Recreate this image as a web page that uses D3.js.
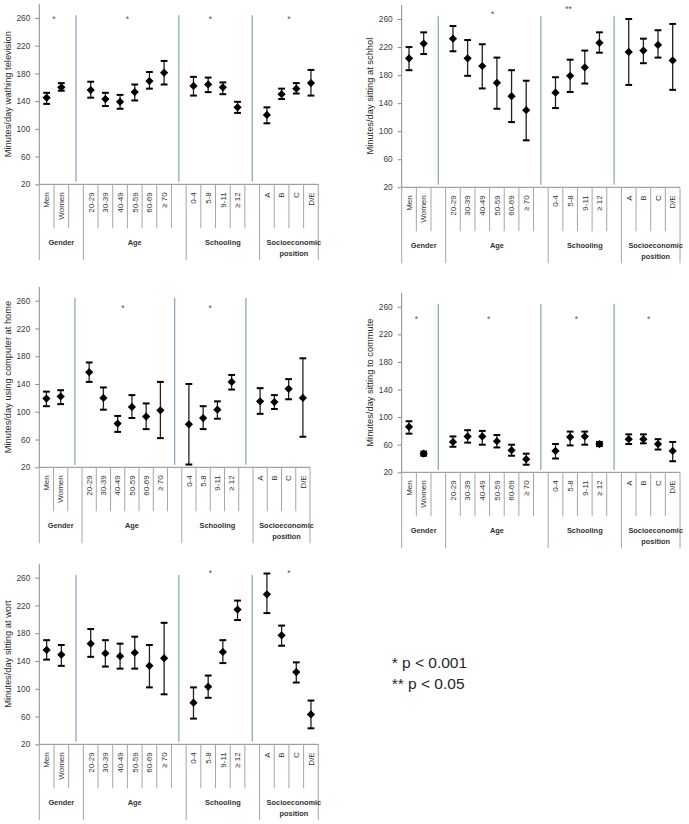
<!DOCTYPE html>
<html>
  <head>
    <meta charset="utf-8">
    <title>sitting time</title>
    <script src="https://cdn.jsdelivr.net/npm/d3@7/dist/d3.min.js"></script>
    <style>
      body { margin: 0; background: #fff; }
      text { font-family: "Liberation Sans", Arial, sans-serif; }
    </style>
  </head>
  <body>
    <svg width="689" height="824"></svg>
    <script>
    // categories
    var groupNames = [["Gender"], ["Age"], ["Schooling"], ["Socioeconomic", "position"]];
    var groupCats = [
      ["Men", "Women"],
      ["20-29", "30-39", "40-49", "50-59", "60-69", "≥ 70"],
      ["0-4", "5-8", "9-11", "≥ 12"],
      ["A", "B", "C", "D/E"]
    ];
    var yTicks = [20, 60, 100, 140, 180, 220, 260];

    // watching television
    var tvMean = [145, 160, 156, 143, 139, 153, 169, 181, 162, 164, 160, 131, 120, 150, 158, 166];
    var tvLow  = [136, 155, 145, 133, 129, 141, 158, 164, 148, 153, 150, 123, 108, 143, 151, 148];
    var tvHigh = [152, 166, 168, 152, 149, 164, 182, 198, 175, 174, 167, 139, 131, 158, 166, 185];
    var tvStars = ["*", "*", "*", "*"];

    // sitting at school
    var schoolMean = [204, 225, 232, 204, 193, 169, 150, 130, 155, 179, 191, 226, 213, 215, 223, 201];
    var schoolLow  = [187, 210, 214, 179, 161, 132, 113, 87, 133, 156, 168, 212, 166, 197, 205, 159];
    var schoolHigh = [220, 241, 250, 230, 224, 205, 187, 172, 177, 202, 215, 241, 260, 232, 244, 253];
    var schoolStars = ["", "*", "**", ""];

    // using computer at home
    var compMean = [119, 122, 157, 120, 83, 107, 93, 102, 82, 91, 103, 143, 115, 114, 133, 120];
    var compLow  = [108, 111, 143, 103, 71, 91, 75, 62, 24, 75, 90, 132, 97, 104, 118, 64];
    var compHigh = [129, 131, 171, 135, 94, 124, 112, 143, 140, 108, 115, 153, 134, 124, 147, 177];
    var compStars = ["", "*", "*", ""];

    // sitting to commute
    var commMean = [86, 47, 64, 72, 72, 65, 52, 39, 51, 71, 72, 61, 68, 68, 61, 51];
    var commLow  = [76, 44, 57, 63, 60, 56, 44, 31, 40, 59, 60, 58, 61, 62, 53, 36];
    var commHigh = [94, 50, 72, 81, 80, 74, 60, 47, 61, 79, 79, 64, 75, 75, 68, 64];
    var commStars = ["*", "*", "*", "*"];

    // sitting at work
    var workMean = [156, 149, 165, 151, 147, 152, 133, 144, 80, 103, 153, 214, 236, 177, 124, 63];
    var workLow  = [142, 133, 146, 132, 129, 129, 102, 92, 57, 87, 137, 199, 209, 162, 109, 43];
    var workHigh = [170, 163, 186, 170, 165, 175, 163, 195, 102, 119, 170, 227, 266, 191, 138, 83];
    var workStars = ["", "", "*", "*"];

    var legendLines = ["* p < 0.001", "** p < 0.05"];

    var svg = d3.select("svg");
    svg.append("rect").attr("width", 689).attr("height", 824).attr("fill", "#fff");

    // slots: every category plus one empty slot between groups
    var slots = [];
    groupCats.forEach(function(cats, gi) {
      cats.forEach(function(c) { slots.push({key: gi + "|" + c, label: c, group: gi}); });
      if (gi < groupCats.length - 1) slots.push({key: "gap" + gi, label: "", group: gi, blank: true});
    });
    var catSlots = slots.filter(function(s) { return !s.blank; });

    var panels = [
      {title: "Minutes/day wathing television", mean: tvMean, low: tvLow, high: tvHigh, stars: tvStars,
       left: 39.3, right: 318.3, top: 4.1, bottom: 184.3, starAt: [261, 261, 261, 261], starDx: [0, 0, -5, 0]},
      {title: "Minutes/day sitting at schhol", mean: schoolMean, low: schoolLow, high: schoolHigh, stars: schoolStars,
       left: 401.7, right: 680, top: 5, bottom: 187.3, starAt: [270, 270, 277, 270], starDx: [0, 3, -9, 0]},
      {title: "Minutes/day using computer at home", mean: compMean, low: compLow, high: compHigh, stars: compStars,
       left: 39.3, right: 310, top: 286.8, bottom: 467.3, starAt: [252, 252, 252, 252], starDx: [0, -2, 0, 0]},
      {title: "Minutes/day sitting to commute", mean: commMean, low: commLow, high: commHigh, stars: commStars,
       left: 401.7, right: 680, top: 292.9, bottom: 472.3, starAt: [244.5, 244.5, 244.5, 244.5], starDx: [0, -1, -1, -2]},
      {title: "Minutes/day sitting at wort", mean: workMean, low: workLow, high: workHigh, stars: workStars,
       left: 39.3, right: 318.3, top: 563.8, bottom: 744.3, starAt: [268.6, 268.6, 268.6, 268.6], starDx: [0, 0, -5, 0]}
    ];

    panels.forEach(drawPanel);

    function drawPanel(p) {
      var g = svg.append("g");
      var x = d3.scaleBand().domain(slots.map(function(s) { return s.key; }))
        .range([p.left, p.right]).padding(0);
      var y = d3.scaleLinear().domain([20, 280]).range([p.bottom, p.top]);
      var bw = x.bandwidth();
      var cx = function(key) { return x(key) + bw / 2; };

      // blue separators in the empty slots
      g.selectAll(".sep")
        .data(slots.filter(function(s) { return s.blank; }))
        .enter().append("line")
        .attr("x1", function(s) { return cx(s.key); })
        .attr("x2", function(s) { return cx(s.key); })
        .attr("y1", y(264)).attr("y2", y(23.5))
        .attr("stroke", "#8ea8c1").attr("stroke-width", 1.3);

      // y axis
      var yAxis = d3.axisLeft(y).tickValues(yTicks).tickSize(4).tickPadding(5);
      var ya = g.append("g").attr("transform", "translate(" + p.left + ",0)").call(yAxis);
      ya.select(".domain").attr("stroke", "#8a8a8a").attr("d", "M0," + p.top + "V" + p.bottom);
      ya.selectAll(".tick line").attr("stroke", "#8a8a8a");
      ya.selectAll(".tick text").attr("font-size", 8.3).attr("fill", "#3a3a3a")
        .style("font-family", "Liberation Sans, Arial, sans-serif");

      // y title
      g.append("text")
        .attr("transform", "translate(" + (p.left - 31.8) + "," + ((p.top + p.bottom) / 2) + ") rotate(-90)")
        .attr("text-anchor", "middle").attr("dy", "0.35em")
        .attr("font-size", 9.3).attr("fill", "#262626")
        .text(p.title);

      // x axis line
      g.append("line")
        .attr("x1", p.left).attr("x2", p.right)
        .attr("y1", p.bottom).attr("y2", p.bottom)
        .attr("stroke", "#8a8a8a").attr("stroke-width", 1);

      // category boundaries
      var bounds = [];
      var start = 0;
      groupCats.forEach(function(cats, gi) {
        var n = cats.length + (gi < groupCats.length - 1 ? 1 : 0);
        for (var k = 0; k <= n; k++) {
          var idx = start + k;
          var outer = (k === 0 || k === n);
          if (outer && bounds.some(function(b) { return b.i === idx; })) continue;
          bounds.push({i: idx, outer: outer});
        }
        start += n;
      });
      g.selectAll(".bound").data(bounds).enter().append("line")
        .attr("x1", function(b) { return p.left + b.i * bw; })
        .attr("x2", function(b) { return p.left + b.i * bw; })
        .attr("y1", p.bottom)
        .attr("y2", function(b) { return p.bottom + (b.outer ? 76 : 44); })
        .attr("stroke", "#a6a6a6").attr("stroke-width", 1);

      // category labels
      g.selectAll(".cat").data(catSlots).enter().append("text")
        .attr("transform", function(s) { return "translate(" + cx(s.key) + "," + (p.bottom + 8) + ") rotate(-90)"; })
        .attr("text-anchor", "end").attr("dy", "0.35em")
        .attr("font-size", 8).attr("fill", "#333")
        .text(function(s) { return s.label; });

      // group labels
      groupNames.forEach(function(lines, gi) {
        var gs = slots.filter(function(s) { return s.group === gi; });
        var x0 = x(gs[0].key), x1 = x(gs[gs.length - 1].key) + bw;
        var shift = lines.length > 1 ? 5 : 0;
        lines.forEach(function(t, li) {
          g.append("text")
            .attr("x", (x0 + x1) / 2 + shift)
            .attr("y", p.bottom + 58.5 + li * 10.5)
            .attr("dy", "0.35em").attr("text-anchor", "middle")
            .attr("font-size", 7.4).attr("font-weight", "bold").attr("fill", "#333")
            .text(t);
        });
      });

      // significance marks
      p.stars.forEach(function(st, gi) {
        if (!st) return;
        var gs = catSlots.filter(function(s) { return s.group === gi; });
        var mid = (cx(gs[0].key) + cx(gs[gs.length - 1].key)) / 2;
        g.append("text")
          .attr("x", mid + p.starDx[gi])
          .attr("y", y(p.starAt[gi]) + 4.6)
          .attr("text-anchor", "middle")
          .attr("font-size", 8.5).attr("fill", "#555")
          .text(st);
      });

      // error bars
      var eb = g.selectAll(".eb").data(catSlots).enter().append("g");
      eb.append("line")
        .attr("x1", function(s) { return cx(s.key); })
        .attr("x2", function(s) { return cx(s.key); })
        .attr("y1", function(s, i) { return y(p.low[i]); })
        .attr("y2", function(s, i) { return y(p.high[i]); })
        .attr("stroke", "#222").attr("stroke-width", 1.3);
      [p.low, p.high].forEach(function(arr) {
        eb.append("line")
          .attr("x1", function(s) { return cx(s.key) - 3.4; })
          .attr("x2", function(s) { return cx(s.key) + 3.4; })
          .attr("y1", function(s, i) { return y(arr[i]); })
          .attr("y2", function(s, i) { return y(arr[i]); })
          .attr("stroke", "#000").attr("stroke-width", 2);
      });

      // diamonds
      g.selectAll(".pt").data(catSlots).enter().append("path")
        .attr("d", d3.symbol(d3.symbolSquare, 34))
        .attr("transform", function(s, i) { return "translate(" + cx(s.key) + "," + y(p.mean[i]) + ") rotate(45)"; })
        .attr("fill", "#000");
    }

    // legend
    svg.selectAll(".leg").data(legendLines).enter().append("text")
      .attr("x", 391.7)
      .attr("y", function(d, i) { return 668 + i * 20.6; })
      .attr("font-size", 15.5).attr("fill", "#262626")
      .text(function(d) { return d; });
    </script>
  </body>
</html>
